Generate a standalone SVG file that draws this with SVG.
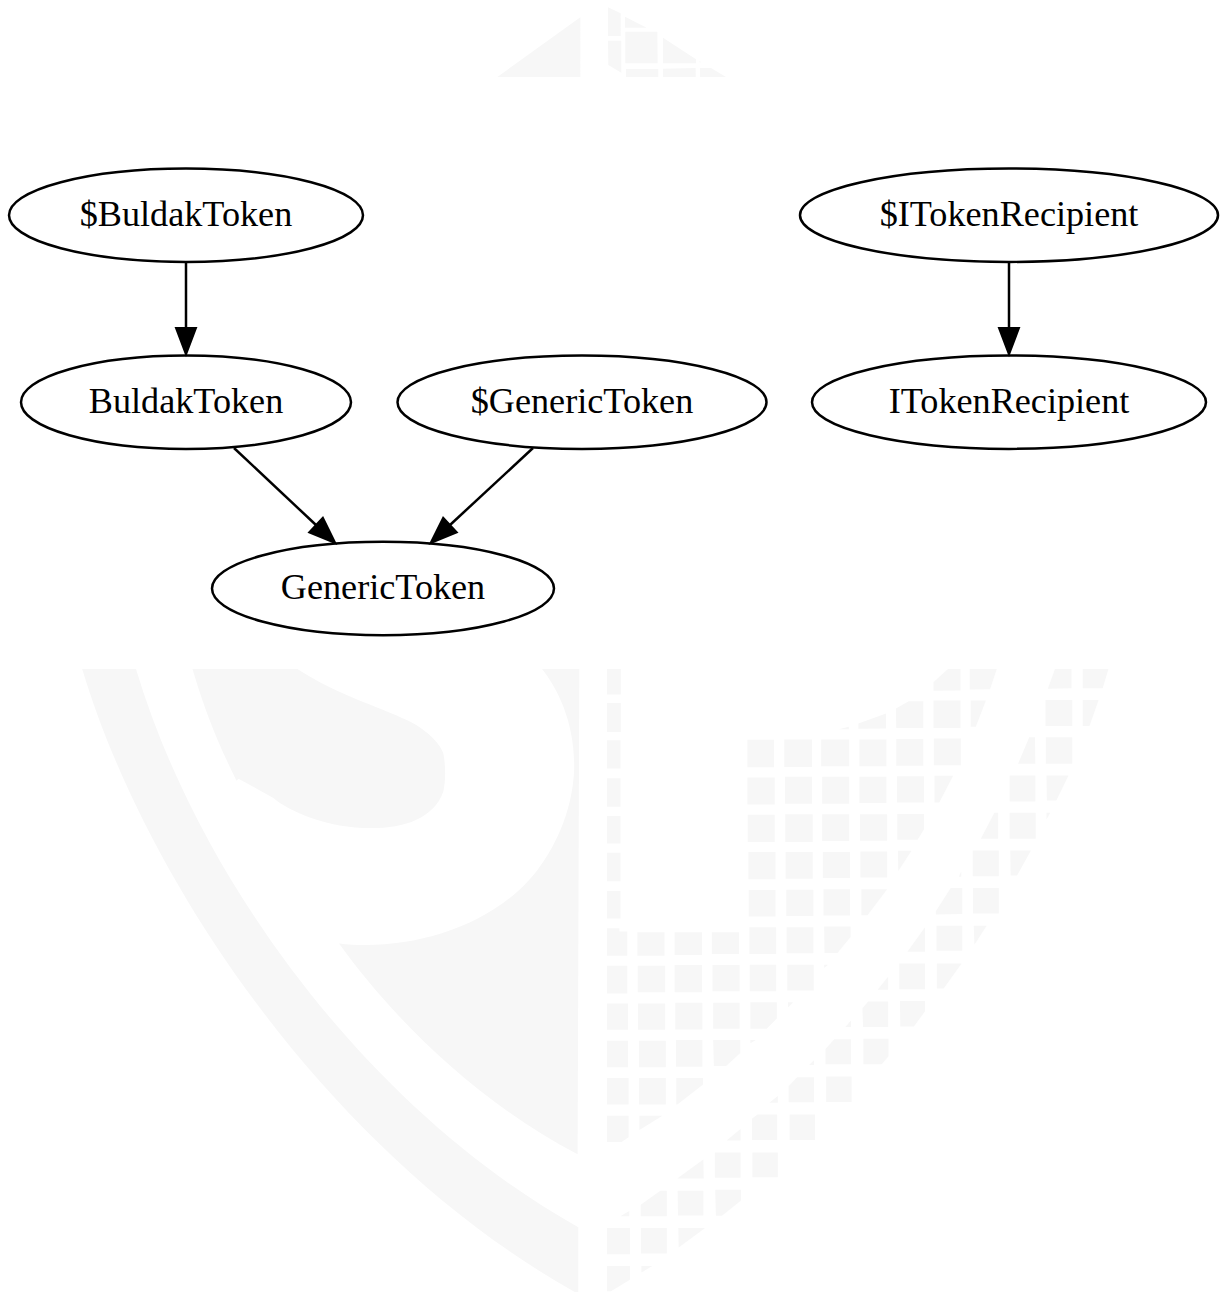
<svg xmlns="http://www.w3.org/2000/svg" width="1221" height="1292" viewBox="0 0 1221 1292">
<style>
.wm{fill:#f7f7f7;stroke:none}
.n ellipse{fill:none;stroke:#000;stroke-width:2.5}
.n text{font-family:"Liberation Serif","Times New Roman",serif;font-size:36.2px;fill:#000;text-anchor:middle}
#connectors path{fill:none;stroke:#000;stroke-width:2.5;marker-end:url(#arrow)}
</style>
<defs>
<marker id="arrow" markerUnits="userSpaceOnUse" markerWidth="36" markerHeight="30" viewBox="-3 -15 36 30" refX="0" refY="0" orient="auto" overflow="visible">
<polygon points="0,-10 26.500,0 0,10" fill="#000" stroke="#000" stroke-width="2"/>
</marker>
</defs>
<rect width="1221" height="1292" fill="#fff"/>
<g id="watermark">
<g transform="translate(480 0) scale(.33333)">
<path class="wm" d="M52 231L301 52V231ZM384 22L422 40V108H384ZM384 122H424V218L385 195ZM435 50L500 83H435ZM436 95H532L533 190H436ZM549 113L648 178V190H549ZM438 207H535V231H438ZM549 206L647 204V231H549ZM660 204H693L738 231H660ZM658 184L665 187H658Z"/>
</g>
<g transform="translate(70 660) scale(.3384 .4051)">
<path class="wm" d="M36 22H195C380 540 880 1110 1502 1400V1565C780 1230 230 560 36 22Z"/>
<path class="wm" d="M362 22H672C800 90 900 110 1000 150C1060 175 1105 215 1105 240C1110 265 1110 300 1103 325C1075 390 990 415 890 415C760 415 650 375 600 340L498 293L492 298C440 210 400 130 362 22Z"/>
<path class="wm" d="M1395 22H1505L1500 1220C1200 1090 950 880 795 700C1000 720 1250 660 1380 520C1480 410 1490 300 1490 260C1490 150 1440 70 1395 22Z"/>
</g>
<g transform="translate(590 660) scale(.3384 .4051)">
<path class="wm" d="M50 22H91V85H50ZM50 106H91V178H50ZM50 198H90V268H50ZM50 292H90V362H50ZM50 385H90V453H50ZM50 476H90V546H50ZM50 570H90V638H50ZM50 662H87V670H110V730H50ZM50 755H110V823H50ZM50 848H112V913H50ZM50 940H112V1005H50ZM50 1032H114V1097H50ZM50 1125H114V1178L93 1190H50ZM50 1402H118V1467H50ZM50 1496H118V1530L62 1558H50Z"/>
<path class="wm" d="M140 672H220V730H140ZM141 755H222V820H141ZM142 848H222V913H142ZM145 940H224V1005H145ZM145 1032H224V1097H145ZM146 1125H214L146 1160ZM150 1345L208 1310H227V1373H150ZM151 1402H227V1465H151ZM152 1496H184L152 1512ZM90 1373L116 1360V1373Z"/>
<path class="wm" d="M250 672H331V728H250ZM250 753H331V820H250ZM252 846H332V912H252ZM254 938H332V1004H254ZM255 1032H334V1048L258 1097H255ZM258 1280L335 1233L336 1280ZM259 1310H335V1371H260ZM261 1402H340L262 1450Z"/>
<path class="wm" d="M360 672H440V726H360ZM362 753H442V818H362ZM364 846H442V910H364ZM364 938H444V970L402 1002H366ZM369 1216H445V1278H369ZM370 1308H446V1334L390 1372H372ZM404 1186L445 1158V1186Z"/>
<path class="wm" d="M465 197H544V265H465ZM465 290H546V357H465ZM466 382H546V449H466ZM468 474H548V541H468ZM469 568H548V633H469ZM471 660H550V726H471ZM472 752H550V818H472ZM474 845H552V885L522 910H474ZM474 946V938H490ZM479 1132L495 1122H553V1185H479ZM480 1216H555V1277H480ZM530 1093L555 1076V1093Z"/>
<path class="wm" d="M574 196H656V264H574ZM576 288H656V355H576ZM577 381H658V449H577ZM578 474H658V540H578ZM580 567H660V632H580ZM581 660H660V724H581ZM583 752H661V816H583ZM585 845H600L585 858ZM587 1052L612 1030H662V1092H587ZM590 1122H665V1185H590ZM648 1000L662 988V1000Z"/>
<path class="wm" d="M683 196H766V262H683ZM686 288H766V355H686ZM686 381H766V447H686ZM688 474H768V538H688ZM690 566H768V631H690ZM692 658H770V684L731 723H693ZM692 752H703L692 760ZM696 960L722 936H771V998H696ZM698 1028H773V1091H698ZM735 171L765 165V171ZM755 906L771 890V906Z"/>
<path class="wm" d="M793 157L875 132V169L793 170ZM796 196H876V262H796ZM796 288H876V353H796ZM798 381H878V446H798ZM799 473H878V537H799ZM802 566H878L820 630H802ZM805 860L822 843H881V906H807ZM808 935H882V978L862 998H808ZM850 814L881 782V814Z"/>
<path class="wm" d="M904 120L942 102H985V168H905ZM905 195H985V261H905ZM907 287H987V352H907ZM908 380H987V418L968 444H908ZM910 471H950L911 521ZM938 720L990 660V720ZM914 749H990V813H914ZM916 842H990V867L957 905H917Z"/>
<path class="wm" d="M1015 55L1058 22H1095V75L1015 76ZM1015 100H1095V168H1015ZM1016 194H1096V260H1016ZM1018 286H1073L1032 352H1018ZM1090 535L1097 522V535ZM1022 620L1066 563H1100V627L1022 628ZM1024 656H1100V718H1024ZM1025 749H1098L1045 811H1025Z"/>
<path class="wm" d="M1122 22H1202L1182 72L1122 73ZM1125 100H1170L1140 165H1125ZM1155 441L1195 377H1206V441ZM1131 470H1208V534H1131ZM1132 563H1208V626H1132ZM1134 656H1172L1136 703Z"/>
<path class="wm" d="M1265 256L1298 191H1315L1316 256ZM1240 285H1316V349H1240ZM1240 377H1317V441H1240ZM1242 470H1303L1262 532H1243Z"/>
<path class="wm" d="M1353 71L1374 22H1423V70ZM1346 99H1425V163H1346ZM1347 191H1425V256H1347ZM1349 285H1414L1378 347H1350ZM1349 377H1360L1349 394Z"/>
<path class="wm" d="M1456 22H1532L1515 70H1456ZM1456 99H1503L1476 163H1456Z"/>
</g>
</g>
<g id="connectors">
<path d="M186 262V328"/>
<path d="M234 448L316 525"/>
<path d="M533 448L450 525"/>
<path d="M1009 262V328"/>
</g>
<g id="node-buldak-dollar" class="n"><ellipse cx="186" cy="215.200" rx="177" ry="46.7"/><text x="186" y="225.500">$BuldakToken</text></g>
<g id="node-buldak" class="n"><ellipse cx="186" cy="402.200" rx="165" ry="46.7"/><text x="186" y="412.500">BuldakToken</text></g>
<g id="node-generic-dollar" class="n"><ellipse cx="582" cy="402.200" rx="184.500" ry="46.7"/><text x="582" y="412.500">$GenericToken</text></g>
<g id="node-generic" class="n"><ellipse cx="383" cy="588.500" rx="171" ry="46.7"/><text x="383" y="598.500">GenericToken</text></g>
<g id="node-recipient-dollar" class="n"><ellipse cx="1009" cy="215.200" rx="209" ry="46.7"/><text x="1009" y="225.500">$ITokenRecipient</text></g>
<g id="node-recipient" class="n"><ellipse cx="1009" cy="402.200" rx="197" ry="46.7"/><text x="1009" y="412.500">ITokenRecipient</text></g>
</svg>
